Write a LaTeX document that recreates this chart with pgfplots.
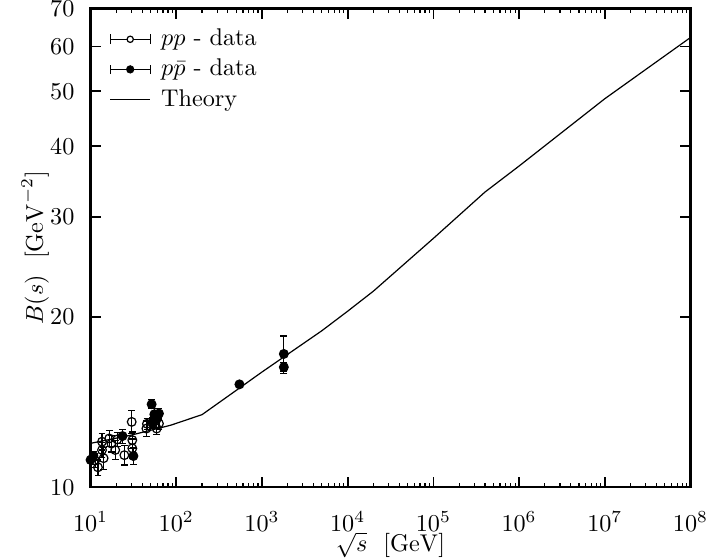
\documentclass[border=0pt]{standalone}
\usepackage{pgfplots}
\pgfplotsset{compat=1.18}

\pgfplotstableread{
x y e
11.3 11.15 0.30
12.2 10.85 0.35
13.6 11.64 0.35
13.6 12.04 0.40
14.2 11.26 0.50
16.5 12.20 0.40
17.5 11.95 0.40
19.4 11.64 0.45
20.5 12.15 0.35
24.8 11.40 0.45
30.2 13.05 0.60
30.7 12.12 0.40
30.7 11.72 0.45
44.8 12.70 0.40
45.5 12.95 0.30
53.0 13.00 0.30
59.1 12.70 0.30
62.8 12.96 0.30
}\ppdata

\pgfplotstableread{
x y e
10.0 11.18 0.20
10.8 11.36 0.20
23.6 12.32 0.35
31.6 11.36 0.40
51.6 14.02 0.25
53.8 13.05 0.30
55.5 13.46 0.30
59.1 13.20 0.30
62.8 13.50 0.30
546 15.20 0.20
1800 17.20 1.30
1800 16.30 0.30
}\ppbardata

\pgfplotstableread{
x y
10 11.96
30 12.37
87 12.88
200 13.44
500 14.83
1000 15.98
5000 18.9
1e4 20.46
2e4 22.2
1e5 27.5
4e5 33.2
1e6 36.9
1e7 48.5
1e8 62.2
}\theory

\begin{document}
\begin{tikzpicture}
\begin{axis}[
    scale only axis, width=248pt, height=198pt,
    xmode=log, ymode=log,
    xmin=10, xmax=1e8, ymin=10, ymax=70,
    xtick={1e1,1e2,1e3,1e4,1e5,1e6,1e7,1e8},
    ytick={10,20,30,40,50,60,70},
    yticklabels={10,20,30,40,50,60,70},
    yminorticks=false,
    every tick label/.append style={inner sep=0pt},
    xticklabel shift=10pt, yticklabel shift=6.5pt,
    axis line style={line width=0.9pt},
    major tick style={line width=0.7pt, black},
    minor tick style={line width=0.5pt, black},
    major tick length=4.2pt, minor tick length=2pt,
    tick align=inside,
    xlabel={$\sqrt{s}\ \ [\mathrm{GeV}]$},
    ylabel={$B(s)\ \ [\mathrm{GeV}^{-2}]$},
    xlabel style={inner sep=0.5pt, yshift=0.5pt},
    ylabel style={yshift=-3pt},
    legend cell align=left,
    legend style={draw=none, fill=none, inner sep=0pt,
                  at={(0.031,0.968)}, anchor=north west, row sep=0pt,
                  /tikz/every odd column/.append style={column sep=0.08cm}},
]
\addplot[only marks, mark=o, mark size=1.8pt, mark options={fill=white, line width=0.5pt},
    legend image code/.code={
      \draw[black, line width=0.5pt] (0cm,-2pt) -- (0cm,2pt) (0cm,0cm) -- (0.58cm,0cm)
        (0.58cm,-2pt) -- (0.58cm,2pt);
      \draw[black, fill=white, line width=0.5pt] (0.29cm,0cm) circle (1.3pt);},
    error bars/.cd, y dir=both, y explicit,
    error mark options={line width=0.5pt, mark size=1.4pt, rotate=90},
    error bar style={line width=0.5pt}]
  table[x=x, y=y, y error=e] {\ppdata};
\addlegendentry{$pp$ - data}
\addplot[only marks, mark=*, mark size=1.8pt, mark options={fill=black, line width=0.5pt},
    legend image code/.code={
      \draw[black, line width=0.5pt] (0cm,-2pt) -- (0cm,2pt) (0cm,0cm) -- (0.58cm,0cm)
        (0.58cm,-2pt) -- (0.58cm,2pt);
      \fill[black] (0.29cm,0cm) circle (1.5pt);},
    error bars/.cd, y dir=both, y explicit,
    error mark options={line width=0.5pt, mark size=1.4pt, rotate=90},
    error bar style={line width=0.5pt}]
  table[x=x, y=y, y error=e] {\ppbardata};
\addlegendentry{$p\bar{p}$ - data}
\addplot[black, line width=0.5pt, mark=none,
    legend image code/.code={\draw[black, line width=0.5pt] (0cm,0cm) -- (0.58cm,0cm);}]
  table[x=x, y=y] {\theory};
\addlegendentry{Theory}
\end{axis}
\path ([xshift=-5.5pt]current axis.outer west);
\end{tikzpicture}
\end{document}
